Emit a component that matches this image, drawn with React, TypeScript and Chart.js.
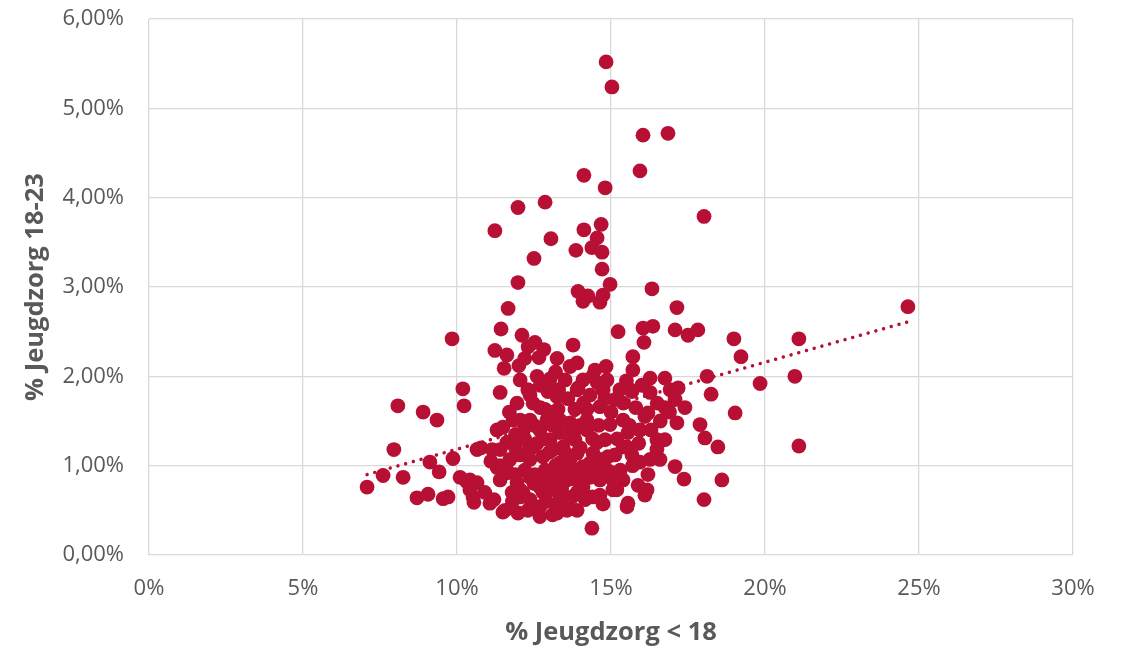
import React, { useEffect, useRef } from 'react';
import { Chart, registerables } from 'chart.js';

Chart.register(...registerables);

const RED = '#B80F34';
const GRID = '#D9D9D9';
const TEXT = '#595959';

const xTicks = [0, 5, 10, 15, 20, 25, 30];
const yTicks = [0, 1, 2, 3, 4, 5, 6];
const xAxisTitle = '% Jeugdzorg < 18';
const yAxisTitle = '% Jeugdzorg 18-23';

// dotted linear trendline, endpoints
const trendX = [7.08, 24.64];
const trendY = [0.9, 2.61];

// [% jeugdzorg < 18, % jeugdzorg 18-23] per gemeente
const gemeenten: [number, number][] = [
  [14.84, 5.52], [15.03, 5.24], [16.04, 4.7], [16.85, 4.72], [15.94, 4.3], [14.12, 4.25], [14.81, 4.11],
  [11.98, 3.89], [12.86, 3.95], [18.02, 3.79], [11.23, 3.63], [13.05, 3.54], [14.12, 3.64], [14.68, 3.7],
  [14.55, 3.55], [14.38, 3.44], [13.86, 3.41], [14.71, 3.39], [12.5, 3.32], [14.71, 3.2], [11.98, 3.05],
  [14.97, 3.03], [16.33, 2.98], [13.93, 2.95], [14.25, 2.9], [14.09, 2.84], [14.64, 2.83], [14.74, 2.91],
  [11.66, 2.76], [17.14, 2.77], [24.64, 2.78], [11.43, 2.53], [15.23, 2.5], [16.04, 2.54], [16.36, 2.56],
  [17.08, 2.52], [17.5, 2.46], [17.82, 2.52], [9.84, 2.42], [12.11, 2.46], [18.99, 2.42], [21.1, 2.42],
  [13.77, 2.35], [12.53, 2.38], [16.07, 2.38], [11.23, 2.29], [11.62, 2.24], [12.31, 2.33], [12.82, 2.3],
  [19.22, 2.22], [15.71, 2.22], [12.66, 2.21], [13.25, 2.2], [14.84, 2.11], [11.53, 2.09], [12.01, 2.12],
  [13.67, 2.11], [13.9, 2.15], [15.71, 2.07], [12.6, 2.0], [13.02, 1.97], [14.09, 1.96], [13.93, 1.87],
  [14.55, 1.93], [14.87, 1.96], [15.29, 1.85], [15.62, 1.85], [16.27, 1.98], [16.75, 1.98], [18.12, 2.0],
  [20.97, 2.0], [19.84, 1.92], [16.92, 1.85], [17.18, 1.87], [18.25, 1.8], [10.19, 1.86], [11.4, 1.82],
  [13.25, 1.77], [17.08, 1.74], [17.4, 1.65], [16.75, 1.65], [19.03, 1.59], [10.23, 1.67], [8.08, 1.67],
  [8.9, 1.6], [9.35, 1.51], [11.95, 1.7], [12.47, 1.7], [13.28, 1.63], [14.22, 1.63], [14.64, 1.66],
  [13.9, 1.85], [14.74, 1.85], [15.68, 1.83], [16.2, 1.59], [17.14, 1.48], [17.89, 1.46], [18.05, 1.31],
  [18.47, 1.21], [15.39, 1.21], [15.94, 1.4], [15.68, 1.12], [15.94, 1.04], [16.27, 1.07], [16.49, 1.29],
  [16.75, 1.29], [16.59, 1.07], [17.08, 0.99], [17.37, 0.85], [18.6, 0.84], [18.02, 0.62], [21.1, 1.22],
  [14.97, 0.93], [15.39, 0.84], [15.06, 0.73], [15.88, 0.78], [16.1, 0.67], [15.55, 0.58], [14.74, 0.57],
  [14.38, 0.3], [14.32, 0.87], [14.09, 0.76], [13.73, 0.65], [13.57, 0.5], [14.22, 1.51], [15.39, 1.51],
  [13.67, 1.48], [11.82, 1.51], [12.92, 1.51], [14.22, 1.4], [14.55, 1.26], [11.62, 1.26], [12.47, 1.21],
  [13.12, 1.18], [13.67, 1.07], [14.09, 0.99], [11.62, 0.92], [11.95, 0.81], [12.05, 0.65], [12.69, 0.76],
  [13.12, 0.87], [13.57, 0.84], [13.9, 0.7], [12.69, 0.54], [13.25, 0.54], [12.69, 0.43], [13.25, 0.47],
  [11.56, 0.5], [11.98, 0.47], [15.19, 0.73], [15.52, 0.54], [11.3, 1.4], [12.14, 1.37], [13.34, 1.37],
  [10.65, 1.18], [11.4, 1.18], [11.62, 0.95], [12.37, 1.21], [12.79, 1.1], [13.34, 1.03], [13.9, 1.14],
  [14.42, 1.14], [13.9, 0.95], [14.87, 0.95], [15.06, 0.84], [16.17, 0.73], [10.42, 0.84], [10.52, 0.65],
  [11.07, 0.58], [13.34, 0.65], [12.79, 0.7], [12.14, 0.7], [15.52, 1.21], [16.49, 1.18], [15.55, 1.37],
  [16.27, 1.82], [7.08, 0.76], [7.6, 0.89], [8.25, 0.87], [7.95, 1.18], [8.7, 0.64], [9.06, 0.68],
  [9.55, 0.63], [9.71, 0.65], [9.12, 1.04], [9.42, 0.93], [9.87, 1.08], [10.1, 0.87], [10.32, 0.82],
  [10.65, 0.81], [10.42, 0.73], [10.55, 0.59], [10.78, 1.2], [11.14, 1.18], [11.49, 1.43], [11.3, 0.98],
  [11.4, 0.84], [11.49, 0.48], [11.79, 0.7], [12.05, 0.73], [12.37, 0.87], [12.05, 1.51], [12.69, 1.4],
  [13.02, 1.29], [13.44, 1.21], [13.83, 1.29], [14.32, 1.03], [14.64, 1.07], [13.34, 0.84], [12.86, 0.95],
  [12.37, 1.07], [12.05, 1.12], [11.72, 1.07], [12.37, 0.62], [13.02, 0.73], [13.51, 0.95], [14.16, 0.62],
  [14.64, 0.67], [12.53, 0.9], [15.13, 1.12], [14.81, 1.29], [12.86, 1.63], [12.37, 1.51], [13.34, 1.51],
  [13.83, 1.63], [14.32, 1.79], [15.13, 1.74], [12.05, 1.96], [13.51, 1.96], [14.48, 2.07], [12.95, 1.83],
  [12.37, 1.79], [13.83, 1.4], [14.97, 1.46], [14.64, 0.84],
  [12.2, 1.3], [12.6, 1.25], [13.0, 1.15], [13.2, 1.0], [12.9, 0.85], [12.5, 0.8], [12.2, 0.95],
  [11.9, 1.2], [11.8, 0.6], [12.3, 0.5], [12.9, 0.6], [13.4, 0.75], [13.6, 0.6], [13.1, 0.45],
  [12.5, 1.45], [13.1, 1.45], [13.6, 1.35], [13.5, 1.15], [14.0, 1.2], [14.4, 1.3], [14.2, 0.9],
  [14.0, 1.45], [13.8, 0.85], [13.0, 1.6], [12.7, 1.65], [11.7, 1.6], [11.4, 1.0], [11.9, 0.9],
  [12.8, 1.3], [13.3, 0.9], [14.6, 1.45], [14.5, 0.95], [14.9, 1.1], [15.2, 1.3], [15.3, 0.95],
  [15.6, 1.45], [15.9, 1.25], [16.1, 1.55], [15.8, 1.65], [15.4, 1.7], [15.0, 1.6], [14.8, 1.75],
  [15.5, 1.95], [16.0, 1.9], [16.5, 1.7], [16.9, 1.6], [16.3, 1.4], [16.6, 1.5], [15.7, 1.0],
  [16.2, 0.9], [12.3, 1.85], [12.7, 1.9], [13.3, 1.85], [13.6, 1.75], [14.1, 1.7], [14.4, 2.0],
  [13.2, 2.05], [12.2, 2.2], [11.9, 1.35], [11.1, 1.05], [10.9, 0.7], [11.2, 0.62], [13.9, 0.5],
  [14.4, 0.65],
];

export default function App() {
  const ref = useRef<HTMLCanvasElement>(null);

  useEffect(() => {
    if (!ref.current) return;
    const tickFont = { family: 'Open Sans', size: 22 };
    const titleFont = { family: 'Open Sans', size: 25.5, weight: 'bold' as const };
    const chart = new Chart(ref.current, {
      type: 'scatter',
      data: {
        datasets: [
          {
            type: 'line',
            data: trendX.map((x, i) => ({ x, y: trendY[i] })),
            borderColor: RED,
            borderWidth: 3.5,
            borderDash: [0.01, 8],
            borderCapStyle: 'round',
            pointRadius: 0,
            fill: false,
            order: 0,
          } as any,
          {
            data: gemeenten.map(([x, y]) => ({ x, y })),
            backgroundColor: RED,
            borderWidth: 0,
            pointRadius: 7.4,
            pointHoverRadius: 7.4,
            order: 1,
          },
        ],
      },
      options: {
        animation: false,
        responsive: false,
        maintainAspectRatio: false,
        layout: { padding: { top: 19, right: 49, left: 0, bottom: 0 } },
        plugins: { legend: { display: false }, tooltip: { enabled: false } },
        scales: {
          x: {
            type: 'linear',
            min: 0,
            max: 30,
            afterBuildTicks: (s: any) => {
              s.ticks = xTicks.map((v) => ({ value: v }));
            },
            afterFit: (s: any) => {
              s.height = 93;
              s.paddingLeft = 0;
              s.paddingRight = 0;
            },
            grid: { color: GRID, lineWidth: 1.3, drawTicks: false },
            border: { display: false },
            ticks: {
              color: TEXT,
              font: tickFont,
              padding: 21,
              maxRotation: 0,
              callback: (v: any) => `${v}%`,
            },
            title: {
              display: true,
              text: xAxisTitle,
              color: TEXT,
              font: titleFont,
              padding: { top: 0, bottom: 0 },
            },
          },
          y: {
            type: 'linear',
            min: 0,
            max: 6,
            afterBuildTicks: (s: any) => {
              s.ticks = yTicks.map((v) => ({ value: v }));
            },
            afterFit: (s: any) => {
              s.width = 149;
              s.paddingTop = 0;
              s.paddingBottom = 0;
            },
            grid: { color: GRID, lineWidth: 1.3, drawTicks: false },
            border: { display: false },
            ticks: {
              color: TEXT,
              font: tickFont,
              padding: 25,
              callback: (v: any) => `${Number(v).toFixed(2).replace('.', ',')}%`,
            },
            title: {
              display: true,
              text: yAxisTitle,
              color: TEXT,
              font: titleFont,
              padding: { top: 20, bottom: 0 },
            },
          },
        },
      },
    });
    return () => chart.destroy();
  }, []);

  return (
    <div style={{ position: 'fixed', left: 0, top: 0, width: 1122, height: 648, background: '#fff' }}>
      <canvas ref={ref} width={1122} height={648} style={{ width: 1122, height: 648, display: 'block' }} />
    </div>
  );
}
